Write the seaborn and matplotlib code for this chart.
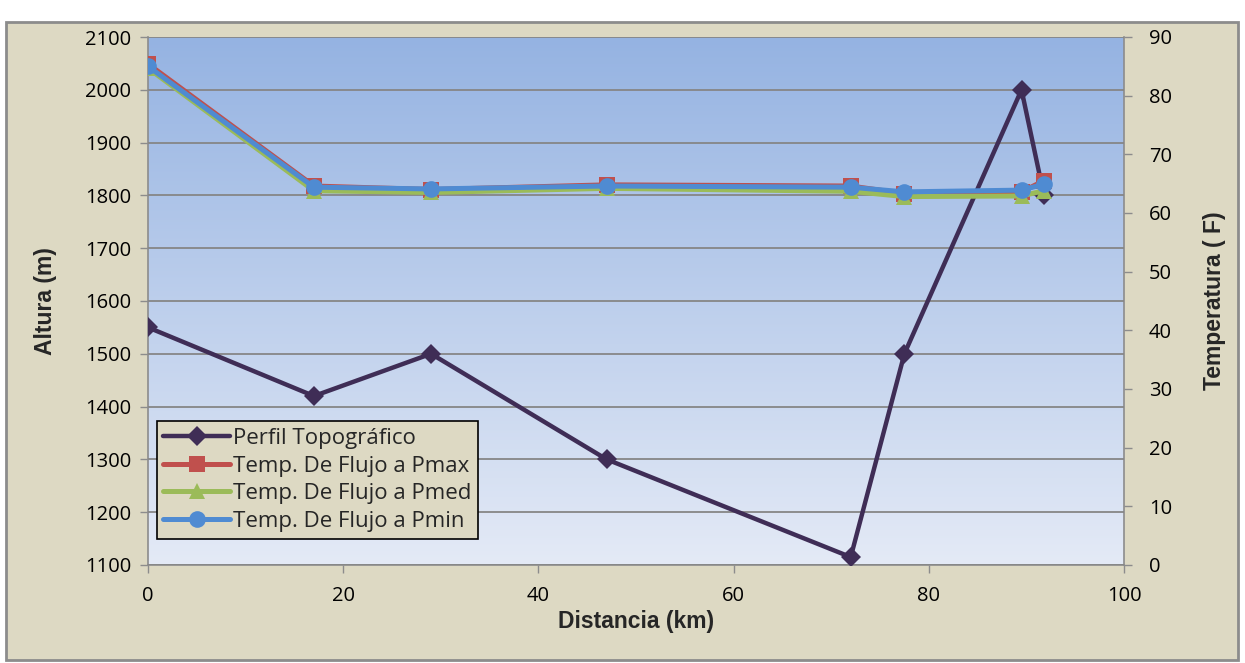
import numpy as np
import pandas as pd
import matplotlib
matplotlib.use('Agg')
import matplotlib.pyplot as plt
from matplotlib.colors import LinearSegmentedColormap
from matplotlib.patches import Rectangle
import seaborn as sns

# distances (km)
distancia = [0, 17, 29, 47, 72, 77.5, 89.5, 91.8]
# topographic profile (m)
perfil = [1550, 1420, 1500, 1300, 1115, 1500, 2000, 1800]
# flow temperatures (F)
temp_pmax = [85.4, 64.6, 64.0, 64.8, 64.6, 63.3, 63.6, 65.5]
temp_pmed = [84.7, 63.8, 63.5, 64.2, 63.7, 62.8, 62.9, 63.8]
temp_pmin = [85.0, 64.4, 64.1, 64.6, 64.4, 63.6, 63.9, 64.9]

left_ticks = list(range(1100, 2101, 100))
right_ticks = list(range(0, 91, 10))
x_ticks = list(range(0, 101, 20))

sns.set_theme(style="white")
plt.rcParams['font.family'] = ['Open Sans', 'DejaVu Sans']

fig = plt.figure(figsize=(12.45, 6.63), dpi=100, facecolor='white')
fig.patches.append(Rectangle((6 / 1245, 3 / 663), 1232 / 1245, 638 / 663,
                             transform=fig.transFigure, facecolor='#DDD9C3',
                             edgecolor='#8C8C8C', linewidth=2, zorder=-5))

ax = fig.add_axes([148 / 1245, 1 - 565 / 663, (1124 - 148) / 1245, (565 - 37) / 663])
ax.set_facecolor('none')

cmap = LinearSegmentedColormap.from_list('bg', ['#E4EAF6', '#95B3E2'])
ax.imshow(np.linspace(0, 1, 256).reshape(-1, 1), extent=[0, 1, 0, 1], origin='lower',
          transform=ax.transAxes, cmap=cmap, aspect='auto', zorder=0)

df_topo = pd.DataFrame({'x': distancia, 'y': perfil})
sns.lineplot(data=df_topo, x='x', y='y', ax=ax, color='#3F2D56', linewidth=3.2,
             marker='D', markersize=10, markeredgewidth=0, label='Perfil Topográfico',
             legend=False, zorder=3)

ax.set_xlim(0, 100)
ax.set_ylim(1100, 2100)
ax.set_xticks(x_ticks)
ax.set_yticks(left_ticks)
ax.yaxis.grid(True, color='#868686', linewidth=1.3)
ax.xaxis.grid(False)
ax.set_axisbelow(False)
for s in ['left', 'bottom', 'right']:
    ax.spines[s].set_color('#8C8C8C')
    ax.spines[s].set_linewidth(1.2)
ax.spines['top'].set_visible(False)
ax.tick_params(axis='both', which='major', direction='out', length=6, width=1,
               color='#8C8C8C', labelsize=14.5, labelcolor='black', left=True, bottom=True)
ax.tick_params(axis='x', pad=9)
ax.tick_params(axis='y', pad=6)
ax.set_xlabel('Distancia (km)', fontsize=16.5, fontweight='bold', family='Liberation Sans', labelpad=3)
ax.set_ylabel('Altura (m)', fontsize=16.5, fontweight='bold', family='Liberation Sans', labelpad=20)

ax2 = ax.twinx()
ax2.set_facecolor('none')
series = [
    (temp_pmax, '#C0504D', 's', 11, 'Temp. De Flujo a Pmax'),
    (temp_pmed, '#9BBB59', '^', 12, 'Temp. De Flujo a Pmed'),
    (temp_pmin, '#4F8BD2', 'o', 12, 'Temp. De Flujo a Pmin'),
]
for vals, col, mk, ms, lab in series:
    d = pd.DataFrame({'x': distancia, 'y': vals})
    sns.lineplot(data=d, x='x', y='y', ax=ax2, color=col, linewidth=3.6, marker=mk,
                 markersize=ms, markeredgewidth=0, label=lab, legend=False)
ax2.set_ylim(0, 90)
ax2.set_yticks(right_ticks)
ax2.grid(False)
for s in ax2.spines.values():
    s.set_visible(False)
ax2.tick_params(axis='y', direction='out', length=6, width=1, color='#8C8C8C',
                labelsize=14.5, labelcolor='black', right=True, pad=12)
ax2.set_ylabel('Temperatura ( F)', fontsize=16.5, fontweight='bold', family='Liberation Sans', labelpad=22)
ax2.set_xlim(0, 100)

h1, l1 = ax.get_legend_handles_labels()
h2, l2 = ax2.get_legend_handles_labels()
leg = ax2.legend(h1 + h2, l1 + l2, loc='lower left', bbox_to_anchor=(0.009, 0.05),
                 fontsize=16, frameon=True, fancybox=False, facecolor='#DDD9C3',
                 edgecolor='black', framealpha=1, borderpad=0.3, labelspacing=0.3,
                 handlelength=3.0, handletextpad=0.15, borderaxespad=0)
leg.get_frame().set_linewidth(1.2)

fig.savefig('out.png', dpi=100, facecolor=fig.get_facecolor())
